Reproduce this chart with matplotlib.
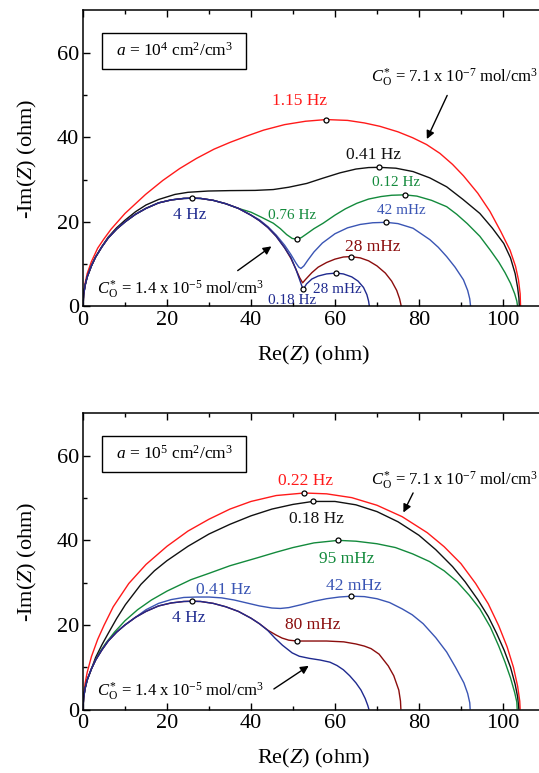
import numpy as np
import matplotlib
matplotlib.use('Agg')
import matplotlib.pyplot as plt
from matplotlib.patches import Rectangle

plt.rcParams['font.family'] = ['Liberation Serif', 'DejaVu Serif']
plt.rcParams['mathtext.fontset'] = 'custom'
plt.rcParams['mathtext.rm'] = 'Liberation Serif'
plt.rcParams['mathtext.it'] = 'Liberation Serif:italic'

# colours of the concentration series
RED = '#ff1a1a'
BLACK = '#111111'
GREEN = '#138a3c'
BLUE = '#3a55b4'
DARKRED = '#8b0d0d'
NAVY = '#1f2a8f'

# shared high frequency arc (both panels)
arc_re = [0, 0.15, 0.5, 1, 2, 3, 4.5, 6, 8, 10, 12.5, 15, 18, 21, 24, 26, 28, 31, 34, 37, 40]
arc_im = [0, 2.8, 5.0, 7.0, 9.6, 11.7, 14.1, 16.2, 18.3, 20.0, 21.8, 23.2, 24.5, 25.2, 25.55, 25.6, 25.55, 25.1, 24.3, 23.2, 21.6]

# ---------------- a = 1e4 ----------------
t_navy_re = arc_re + [42, 44, 46, 48, 49.5, 50.7, 51.6, 52.2, 52.5, 53.2, 54.5, 56, 58, 60.2, 62, 64, 65.5, 66.8, 67.6, 68, 68.2]
t_navy_im = arc_im + [20.3, 18.7, 16.6, 13.9, 11.6, 8.8, 6.3, 4.6, 4.1, 5.3, 6.5, 7.2, 7.7, 7.9, 7.7, 7.0, 6.0, 4.5, 2.8, 1.3, 0]
t_dred_re = arc_re + [42, 44, 46, 48, 49.5, 50.7, 51.6, 52.3, 53, 54.5, 56, 58, 60, 62, 63.7, 66, 68, 70, 72, 73.5, 74.7, 75.4, 75.8]
t_dred_im = arc_im + [20.3, 18.7, 16.6, 13.9, 11.4, 8.8, 6.8, 5.6, 6.4, 8.0, 9.3, 10.4, 11.2, 11.7, 11.8, 11.5, 10.8, 9.6, 7.9, 6.0, 3.8, 1.8, 0]
t_blue_re = arc_re + [42, 44, 46, 48, 49.5, 50.7, 51.4, 51.9, 52.6, 53.5, 55, 57, 60, 63, 66, 69, 72.2, 75, 78.6, 82.6, 84.6, 86.6, 88.6, 90.6, 91.6, 92.1, 92.3]
t_blue_im = arc_im + [20.5, 18.9, 16.9, 14.5, 12.3, 10.3, 9.3, 9.0, 9.6, 10.9, 12.9, 15.0, 17.2, 18.6, 19.4, 19.8, 19.9, 19.6, 18.5, 15.8, 14.0, 11.8, 9.3, 6.3, 3.8, 1.8, 0]
t_green_re = arc_re[:-1] + [40, 42.5, 45.3, 47, 48.5, 49.8, 50.9, 52, 53.3, 55, 57.2, 60, 62.5, 65.2, 68, 71, 73.5, 76.6, 79.5, 83, 86.6, 89, 91.5, 94.5, 97, 99, 100.5, 101.8, 102.8, 103.3, 103.5]
t_green_im = arc_im[:-1] + [22.3, 21.1, 19.7, 18.4, 17.0, 16.1, 15.9, 16.3, 17.2, 18.4, 19.7, 21.6, 23.1, 24.4, 25.4, 26.0, 26.3, 26.4, 26.1, 25.1, 23.6, 21.8, 19.6, 16.6, 13.3, 10.5, 8.0, 5.5, 3.0, 1.3, 0]
t_black_re = [0, 0.15, 0.5, 1, 2, 3, 4.5, 6, 8, 10, 12.5, 15, 18, 21.9, 25, 29.8, 35, 41, 45.3, 49, 53.3, 57, 61.2, 65, 68, 70.5, 74.5, 78.6, 82.6, 86.6, 90.5, 94.5, 97.5, 100.2, 101.8, 102.9, 103.5, 103.8, 103.9]
t_black_im = [0, 2.8, 5.0, 7.0, 9.6, 11.7, 14.2, 16.4, 18.6, 20.4, 22.4, 24.0, 25.3, 26.5, 27.0, 27.3, 27.4, 27.45, 27.65, 28.2, 29.1, 30.3, 31.6, 32.5, 32.85, 32.9, 32.7, 31.9, 30.4, 28.3, 25.3, 22.0, 18.5, 14.9, 11.5, 7.8, 4.5, 2.0, 0]
t_red_re = [0, 0.15, 0.5, 1, 2, 3.5, 5, 6.7, 10, 14.9, 19, 23, 27, 31.2, 35, 39, 43, 48, 53, 57.9, 63, 67, 70.7, 75, 78.5, 81.8, 85, 88, 90.6, 94, 96.9, 99.5, 101.7, 103, 103.7, 104.1, 104.2]
t_red_im = [0, 3.0, 5.5, 7.8, 10.6, 13.8, 16.0, 18.3, 22.0, 26.5, 29.8, 32.6, 35.0, 37.2, 38.8, 40.3, 41.7, 43.0, 43.8, 44.2, 44.0, 43.4, 42.6, 41.3, 39.9, 38.3, 36.2, 33.6, 30.9, 26.8, 22.5, 17.7, 13.3, 9.5, 6.3, 3.0, 0]

# ---------------- a = 1e5 ----------------
b_navy_re = arc_re + [42, 44, 45.7, 47.5, 49.8, 51.5, 53.9, 56.5, 58.8, 60.5, 62, 63.5, 65, 66.2, 67.2, 67.8, 68.1]
b_navy_im = arc_im + [20.3, 18.7, 16.9, 15.2, 13.4, 12.6, 12.1, 11.7, 11.2, 10.4, 9.4, 8.0, 6.3, 4.6, 2.6, 1.0, 0]
b_dred_re = arc_re[:-1] + [40, 42, 44.1, 46, 47.4, 49, 51, 54, 58, 62.1, 65, 67, 68.6, 70.5, 72.7, 74, 75.2, 75.6, 75.7]
b_dred_im = arc_im[:-1] + [21.6, 20.3, 18.7, 17.6, 16.9, 16.4, 16.2, 16.2, 16.2, 16.0, 15.5, 15.0, 14.4, 13.1, 10.3, 8.0, 4.6, 2.0, 0]
b_blue_re = arc_re[:11] + [15, 18, 21, 24, 27, 30, 33, 36, 39, 42, 45, 47, 49, 52, 55, 58, 61, 63.9, 67, 70, 73, 76, 78.4, 81, 84, 86.6, 88.7, 90.7, 91.6, 92.1, 92.2]
b_blue_im = arc_im[:11] + [23.6, 25.1, 26.0, 26.5, 26.6, 26.6, 26.4, 25.9, 25.2, 24.5, 24.0, 23.9, 24.1, 24.8, 25.6, 26.2, 26.6, 26.8, 26.7, 26.2, 25.3, 23.8, 22.4, 20.3, 17.0, 13.6, 10.0, 6.3, 3.8, 1.6, 0]
b_green_re = arc_re[:6] + [4, 5.5, 7.5, 10, 13, 16.3, 20, 25.7, 30, 35, 41.6, 46, 50, 55, 60.8, 65, 70, 74.4, 78.5, 82.5, 86, 89.1, 92, 94.5, 97, 99, 100.5, 101.8, 102.8, 103.3, 103.4]
b_green_im = arc_im[:6] + [13.6, 15.8, 18.3, 21.0, 23.6, 25.9, 28.0, 30.7, 32.2, 34.0, 35.9, 37.2, 38.3, 39.4, 40.0, 39.8, 39.2, 38.3, 36.8, 35.0, 32.8, 30.2, 27.0, 23.8, 19.5, 15.0, 11.2, 7.5, 4.0, 1.8, 0]
b_black_re = arc_re[:5] + [3, 4.5, 6, 8, 10.1, 13.8, 17, 20, 25, 30, 35, 40, 45, 50, 54.7, 60, 65, 70, 75, 80, 84, 88, 91, 94, 96.5, 98.5, 100.3, 101.8, 102.9, 103.5, 103.8]
b_black_im = arc_im[:5] + [12.3, 15.3, 18.0, 21.5, 24.8, 29.6, 32.8, 35.2, 38.6, 41.5, 43.8, 45.8, 47.4, 48.5, 49.2, 49.2, 48.4, 46.8, 44.4, 41.2, 37.8, 33.8, 30.2, 26.0, 22.0, 18.0, 14.0, 10.0, 6.0, 3.0, 0]
b_red_re = [0, 0.15, 0.5, 1, 2, 3.5, 5, 7.2, 10.9, 15, 20, 25, 30, 35, 40, 46, 52.7, 58, 64, 70, 76, 82, 86, 90, 93.5, 96.5, 99, 101, 102.5, 103.5, 104, 104.1]
b_red_im = [0, 3.5, 6.2, 8.8, 12.5, 16.6, 19.9, 24.3, 29.8, 34.3, 38.6, 42.2, 45.0, 47.4, 49.2, 50.6, 51.2, 51.0, 50.1, 48.3, 45.6, 41.8, 38.5, 34.5, 29.8, 25.0, 19.8, 14.8, 10.0, 5.5, 2.0, 0]

# marked frequencies: (re, im)
t_marks = [(26, 25.6), (57.9, 44.2), (70.5, 32.9), (50.9, 15.9), (76.6, 26.4), (72.2, 19.9), (63.7, 11.8), (60.2, 7.9), (52.5, 4.1)]
b_marks = [(26, 25.6), (52.7, 51.2), (54.7, 49.2), (60.8, 40.0), (63.9, 26.8), (51, 16.2)]

# frequency labels: (text, re, im, colour, size)
t_labels = [('1.15 Hz', 51.6, 48.6, RED, 12.5), ('0.41 Hz', 69.1, 35.8, BLACK, 12.5),
            ('0.12 Hz', 74.6, 29.3, GREEN, 11), ('0.76 Hz', 49.8, 21.5, GREEN, 11),
            ('42 mHz', 75.8, 22.8, BLUE, 11), ('4 Hz', 25.3, 21.6, NAVY, 12.5),
            ('28 mHz', 69.1, 14.1, DARKRED, 12.5), ('28 mHz', 60.6, 4.0, NAVY, 11),
            ('0.18 Hz', 49.9, 1.5, NAVY, 11)]
b_labels = [('0.22 Hz', 53.1, 54.0, RED, 12.5), ('0.18 Hz', 55.7, 45.0, BLACK, 12.5),
            ('95 mHz', 62.9, 35.7, GREEN, 12.5), ('0.41 Hz', 33.4, 28.2, BLUE, 12.5),
            ('42 mHz', 64.4, 29.2, BLUE, 12.5), ('4 Hz', 25.2, 21.6, NAVY, 12.5),
            ('80 mHz', 54.7, 20.1, DARKRED, 12.5)]

conc_hi = r'$C^{*}_{\mathrm{O}}$ = 1.4 x 10$^{\mathrm{-5}}$ mol/cm$^{3}$'
conc_lo = r'$C^{*}_{\mathrm{O}}$ = 7.1 x 10$^{\mathrm{-7}}$ mol/cm$^{3}$'

fig = plt.figure(figsize=(5.39, 7.73), dpi=100)
ax1 = fig.add_axes([0.154, 0.6035, 0.857, 0.383])
ax2 = fig.add_axes([0.154, 0.0821, 0.857, 0.383])


def style_axes(ax):
    ax.set_xlim(0, 110)
    ax.set_ylim(0, 70)
    ax.set_xticks([0, 20, 40, 60, 80, 100])
    ax.set_xticks([10, 30, 50, 70, 90], minor=True)
    ax.set_yticks([0, 20, 40, 60])
    ax.set_yticks([10, 30, 50], minor=True)
    ax.tick_params(which='both', direction='in', top=True, right=False, labelsize=16, width=1)
    ax.tick_params(which='major', length=5, pad=3)
    ax.tick_params(which='minor', length=3)
    for s in ax.spines.values():
        s.set_linewidth(1.1)
    ax.set_xlabel('Re($Z$) (ohm)', fontsize=16)
    ax.set_ylabel('-Im($Z$) (ohm)', fontsize=16)
    ax.xaxis.set_label_coords(0.5, -0.125)
    ax.yaxis.set_label_coords(-0.095, 0.5)


def draw(ax, curves, marks, labels):
    for re, im, c in curves:
        ax.plot(re, im, color=c, lw=1.0, solid_capstyle='butt', solid_joinstyle='round')
    mx, my = zip(*marks)
    ax.plot(mx, my, 'o', ms=3.6, mfc='white', mec='black', mew=0.9, zorder=5)
    for txt, x, y, c, fs in labels:
        ax.text(x, y, txt, color=c, fontsize=fs, ha='center', va='center')


style_axes(ax1)
draw(ax1, [(t_red_re, t_red_im, RED), (t_black_re, t_black_im, BLACK),
           (t_green_re, t_green_im, GREEN), (t_blue_re, t_blue_im, BLUE),
           (t_dred_re, t_dred_im, DARKRED), (t_navy_re, t_navy_im, NAVY)],
     t_marks, t_labels)
ax1.add_patch(Rectangle((4.5, 56.2), 34.4, 8.5, fill=False, ec='black', lw=1))
ax1.text(21.7, 60.4, r'$a$ = 10$^{4}$ cm$^{2}$/cm$^{3}$', fontsize=12.5, ha='center', va='center')
ax1.text(68.6, 54.0, conc_lo, fontsize=12, ha='left', va='center')
ax1.annotate('', xy=(81.6, 39.0), xytext=(87.0, 50.5),
             arrowprops=dict(arrowstyle='-|>', color='black', lw=1, mutation_scale=12))
ax1.text(3.4, 3.9, conc_hi, fontsize=12, ha='left', va='center')
ax1.annotate('', xy=(45.4, 14.6), xytext=(36.3, 8.1),
             arrowprops=dict(arrowstyle='-|>', color='black', lw=1, mutation_scale=12))

style_axes(ax2)
draw(ax2, [(b_red_re, b_red_im, RED), (b_black_re, b_black_im, BLACK),
           (b_green_re, b_green_im, GREEN), (b_blue_re, b_blue_im, BLUE),
           (b_dred_re, b_dred_im, DARKRED), (b_navy_re, b_navy_im, NAVY)],
     b_marks, b_labels)
ax2.add_patch(Rectangle((4.5, 56.2), 34.4, 8.5, fill=False, ec='black', lw=1))
ax2.text(21.7, 60.4, r'$a$ = 10$^{5}$ cm$^{2}$/cm$^{3}$', fontsize=12.5, ha='center', va='center')
ax2.text(68.6, 54.0, conc_lo, fontsize=12, ha='left', va='center')
ax2.annotate('', xy=(76.0, 46.0), xytext=(78.9, 51.8),
             arrowprops=dict(arrowstyle='-|>', color='black', lw=1, mutation_scale=12))
ax2.text(3.4, 4.2, conc_hi, fontsize=12, ha='left', va='center')
ax2.annotate('', xy=(54.3, 10.7), xytext=(44.9, 4.5),
             arrowprops=dict(arrowstyle='-|>', color='black', lw=1, mutation_scale=12))

fig.savefig('out.png', dpi=100)
